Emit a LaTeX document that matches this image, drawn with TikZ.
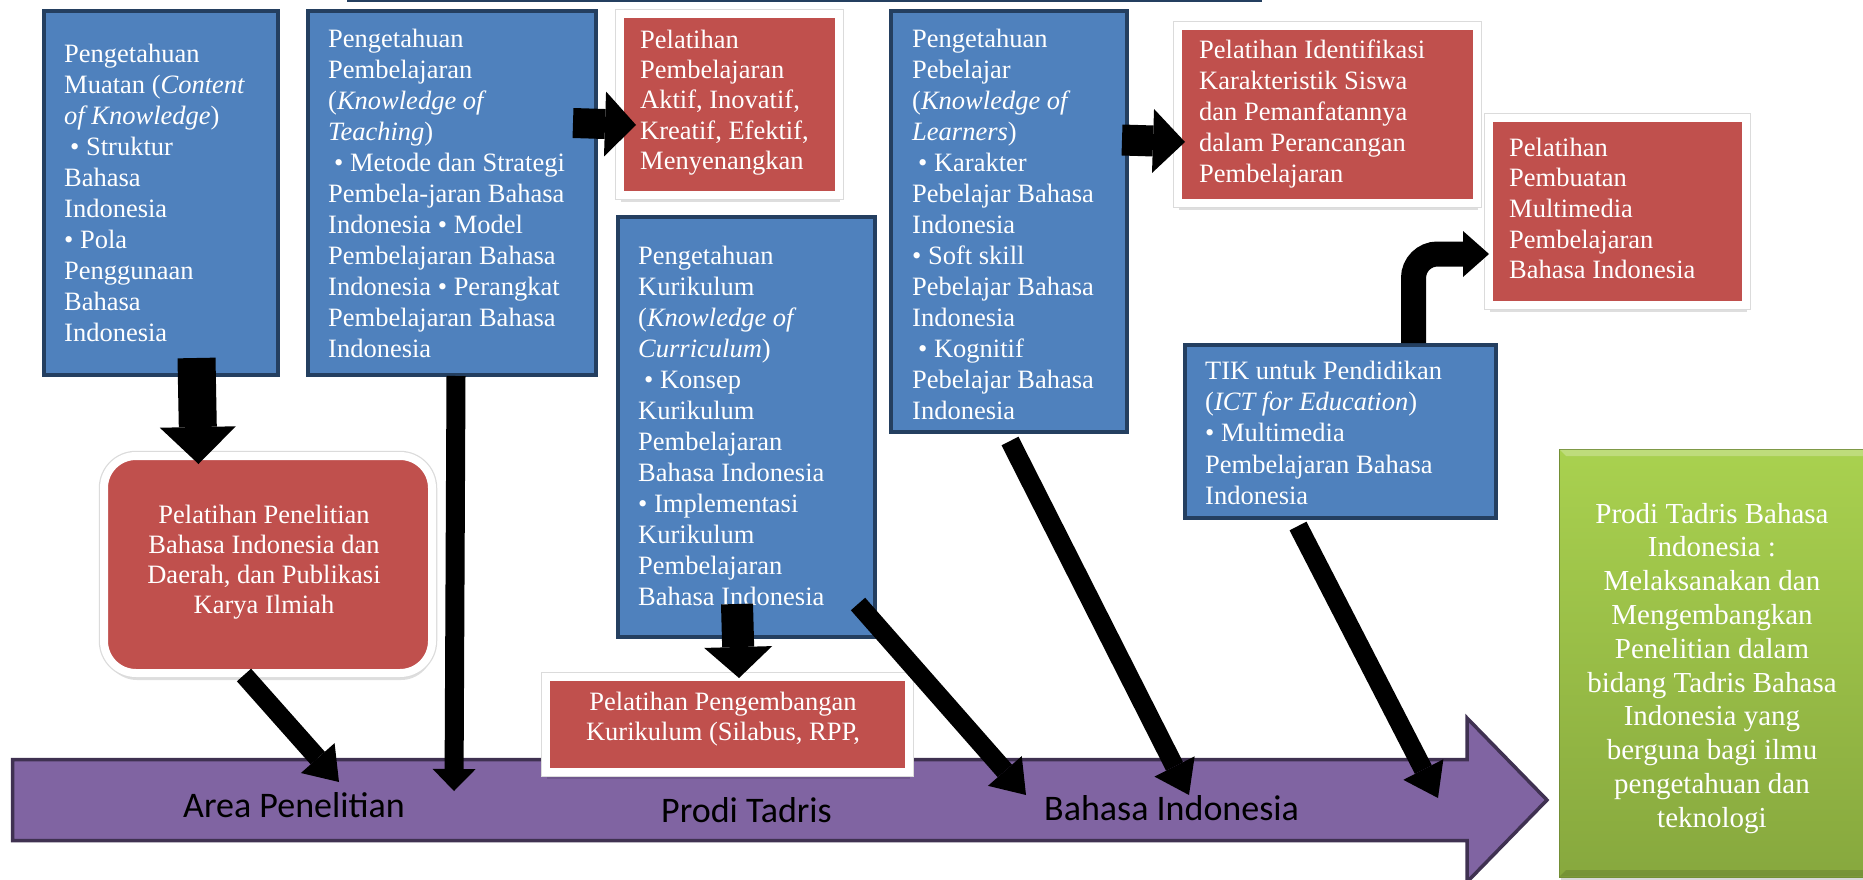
\documentclass[tikz,border=0pt]{standalone}
\usepackage{fontspec}
\setmainfont{Liberation Serif}
\newfontfamily\calib{Carlito}
\usetikzlibrary{arrows.meta,calc,shadows}
\definecolor{blueF}{HTML}{4F81BD}
\definecolor{blueB}{HTML}{243F60}
\definecolor{redF}{HTML}{C0504D}
\definecolor{purF}{HTML}{8064A2}
\definecolor{purB}{HTML}{3F3151}
\definecolor{grnT}{HTML}{A9D14F}
\definecolor{grnB}{HTML}{87A83E}
\begin{document}
\begin{tikzpicture}[x=1pt,y=-1pt,
 bluebox/.style={draw=blueB, fill=blueF, line width=4pt, anchor=north west, inner sep=0pt},
 redbox/.style={draw=white, fill=redF, line width=8pt, anchor=north west, inner sep=0pt,
   drop shadow={shadow xshift=1pt, shadow yshift=-7pt, fill=black, opacity=0.13},
   preaction={draw=black!14, line width=10.5pt}},
 txt/.style={anchor=north west, inner sep=0pt, align=left, text=white, font=\fontsize{26.5}{31}\selectfont},
 ctxt/.style={anchor=north, inner sep=0pt, align=center, text=white, font=\fontsize{26.5}{30}\selectfont},
 lbl/.style={anchor=base west, inner sep=0pt, font=\calib\fontsize{36}{42}\selectfont, text=black},
 conn/.style n args={3}{line width=#1pt, -{Triangle[length=#3pt, width=#2pt, line width=0pt]}},
]
\useasboundingbox (0,0) rectangle (1863,880);
% top cut-off edge
\draw[blueB, line width=3pt] (347,1) -- (1262,1);
% purple arrow
\draw[fill=purF, draw=purB, line width=3.5pt, line join=miter] (12.5,759.5) -- (1467,759.5) -- (1467,718) -- (1547,800) -- (1467,882) -- (1467,840.5) -- (12.5,840.5) -- cycle;
\node[lbl] (l1) at (183,817) {Area Penelitian};
\node[lbl] (l2) at (661,822) {Prodi Tadris};
\node[lbl] (l3) at (1044,820) {Bahasa Indonesia};
\coordinate (p1) at (339,782);
\coordinate (p2) at (454,791);
\coordinate (p3) at (1026,795);
\coordinate (p4) at (1189,795);
\coordinate (p5) at (1438,798);
% green box
\fill[black, opacity=0.15] (1561,453) rectangle (1870,881);
\node[anchor=north west, minimum width=320pt, minimum height=428pt, top color=grnT, bottom color=grnB, draw=grnB!85!black, line width=1pt, inner sep=0pt] (g) at (1559,449) {};
\fill[white, opacity=0.25] (1559.5,449.5) -- (1875,449.5) -- (1870,456) -- (1566,456) -- cycle;
\fill[black, opacity=0.12] (1559.5,876.5) -- (1875,876.5) -- (1870,870) -- (1566,870) -- cycle;
\node[ctxt, font=\fontsize{29}{33.8}\selectfont] at (1712,499.3) {\strut Prodi Tadris Bahasa\\Indonesia :\\Melaksanakan dan\\Mengembangkan\\Penelitian dalam\\bidang Tadris Bahasa\\Indonesia yang\\berguna bagi ilmu\\pengetahuan dan\\teknologi};
% blue boxes
\node[bluebox, minimum width=234pt, minimum height=364pt] (b1) at (42,9) {};
\node[txt] at (64,40.3) {\strut Pengetahuan\\Muatan (\textit{Content}\\\textit{of Knowledge})\\\hspace*{6pt}• Struktur\\Bahasa\\Indonesia\\• Pola\\Penggunaan\\Bahasa\\Indonesia};
\node[bluebox, minimum width=288pt, minimum height=364pt] (b2) at (306,9) {};
\node[txt] at (328,25.3) {\strut Pengetahuan\\Pembelajaran\\(\textit{Knowledge of}\\\textit{Teaching})\\\hspace*{6pt}• Metode dan Strategi\\Pembela-jaran Bahasa\\Indonesia • Model\\Pembelajaran Bahasa\\Indonesia • Perangkat\\Pembelajaran Bahasa\\Indonesia};
\node[bluebox, minimum width=257pt, minimum height=420pt] (bk) at (616,215) {};
\node[txt] at (638,242.3) {\strut Pengetahuan\\Kurikulum\\(\textit{Knowledge of}\\\textit{Curriculum})\\\hspace*{6pt}• Konsep\\Kurikulum\\Pembelajaran\\Bahasa Indonesia\\• Implementasi\\Kurikulum\\Pembelajaran\\Bahasa Indonesia};
\node[bluebox, minimum width=236pt, minimum height=421pt] (bp) at (889,9) {};
\begin{scope}
\clip (889,9) rectangle (1125,428);
\node[txt] at (912,25.3) {\strut Pengetahuan\\Pebelajar\\(\textit{Knowledge of}\\\textit{Learners})\\\hspace*{6pt}• Karakter\\Pebelajar Bahasa\\Indonesia\\• Soft skill\\Pebelajar Bahasa\\Indonesia\\\hspace*{6pt}• Kognitif\\Pebelajar Bahasa\\Indonesia};
\end{scope}
\node[bluebox, minimum width=311pt, minimum height=173pt] (bt) at (1183,343) {};
\node[txt, font=\fontsize{26.5}{31.4}\selectfont] at (1205,357) {\strut TIK untuk Pendidikan\\(\textit{ICT for Education})\\• Multimedia\\Pembelajaran Bahasa\\Indonesia};
% red boxes
\node[redbox, minimum width=219pt, minimum height=181pt] (ra) at (616,10) {};
\node[txt, font=\fontsize{26.5}{30.4}\selectfont] at (640,26.7) {\strut Pelatihan\\Pembelajaran\\Aktif, Inovatif,\\Kreatif, Efektif,\\Menyenangkan};
\node[redbox, minimum width=299pt, minimum height=177pt] (ri) at (1174,22) {};
\begin{scope}
\clip (1178,26) rectangle (1469,195);
\node[txt] at (1199,36.8) {\strut Pelatihan Identifikasi\\Karakteristik Siswa\\dan Pemanfatannya\\dalam Perancangan\\Pembelajaran};
\end{scope}
\node[redbox, minimum width=257pt, minimum height=187pt] (rm) at (1485,114) {};
\node[txt, font=\fontsize{26.5}{30.6}\selectfont] at (1509,134.6) {\strut Pelatihan\\Pembuatan\\Multimedia\\Pembelajaran\\Bahasa Indonesia};
\node[redbox, rounded corners=32pt, minimum width=328pt, minimum height=217pt] (rr) at (100,452) {};
\node[ctxt] at (264,502) {\strut Pelatihan Penelitian\\Bahasa Indonesia dan\\Daerah, dan Publikasi\\Karya Ilmiah};
\node[redbox, minimum width=363pt, minimum height=95pt] (rk) at (542,673) {};
\node[ctxt] at (723,689) {\strut Pelatihan Pengembangan\\Kurikulum (Silabus, RPP,};
% connectors
\draw[conn={38}{76}{37}] ($(b1.south)+(35.5,-19)$) -- ($(rr.north)+(-69.5,12)$);
\draw[conn={19}{43}{22}] ($(b2.south)+(4,-1)$) -- (p2);
\draw[conn={30}{65}{31}] ($(b2.east)+(-25,-70)$) -- ($(ra.west)+(20,20.5)$);
\draw[conn={31}{64}{32}] ($(bp.east)+(-7,-81.5)$) -- ($(ri.west)+(11,27.5)$);
\draw[conn={32}{68}{31}] ($(bk.south)+(-9.5,-35)$) -- ($(rk.north)+(11.5,5)$);
\draw[conn={19}{45}{32}] ($(rr.south)+(-24,-2)$) -- (p1);
\draw[conn={19}{45}{32}] ($(bk.south)+(111.5,-35)$) -- (p3);
\draw[conn={19}{45}{32}] ($(bp.south)+(1,7)$) -- (p4);
\draw[conn={19}{45}{32}] ($(bt.south)+(-42.5,6)$) -- (p5);
\draw[conn={25}{46}{26}, rounded corners=24pt] ($(bt.north)+(73,0)$) |- ($(rm.west)+(4,42.5)$);
\end{tikzpicture}
\end{document}
